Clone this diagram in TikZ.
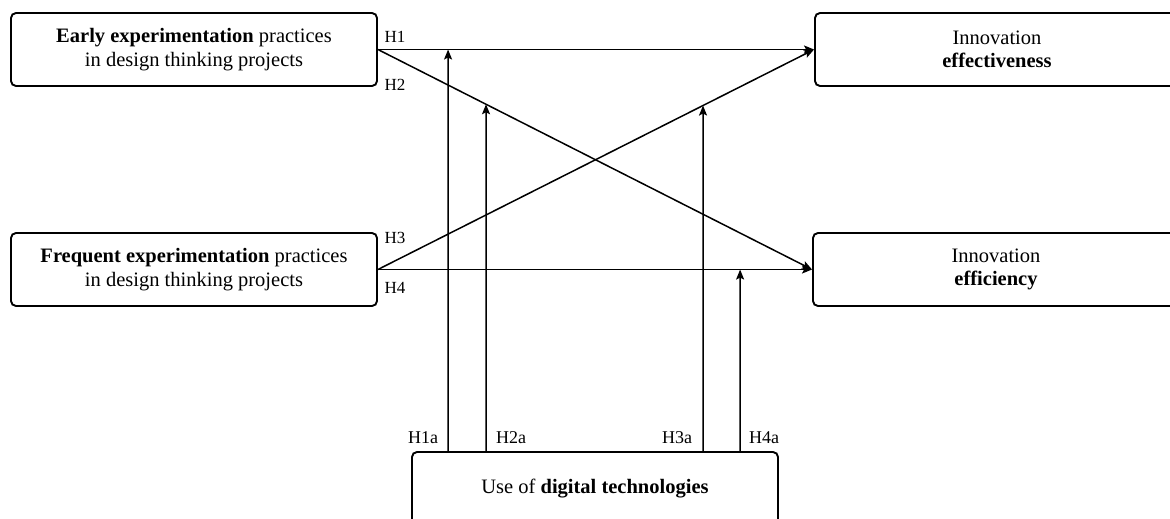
\documentclass[tikz,border=0pt]{standalone}
\usepackage{fontspec}
\setmainfont{Liberation Serif}[BoldFont={Liberation Serif Bold}]
\usetikzlibrary{arrows.meta,calc}
\begin{document}
\begin{tikzpicture}[x=1pt,y=-1pt,
  box/.style={draw, line width=1.9pt, rounded corners=5pt, minimum width=366pt, minimum height=73pt,
    align=center, font=\fontsize{20.5}{23.5}\selectfont, inner sep=0pt},
  conn/.style={line width=1.5pt, -{Stealth[length=10pt,width=8pt,inset=2pt]}},
  hlab/.style={anchor=base, font=\fontsize{17}{20}\selectfont, inner sep=0pt},
  hlaba/.style={anchor=base, font=\fontsize{18}{20}\selectfont, inner sep=0pt}]
\useasboundingbox (0,0) rectangle (1170,519);
\clip (0,0) rectangle (1170,519);
\fill[white] (0,0) rectangle (1170,519);

\node[box] (early) at (194,49.5) {\textbf{Early experimentation} practices\\in design thinking projects};
\node[box] (freq) at (194,269.5) {\textbf{Frequent experimentation} practices\\in design thinking projects};
\node[box, minimum width=364pt] (eff) at (997,49.5) {Innovation\\\textbf{effectiveness}};
\node[box, minimum width=366pt] (effic) at (996,269.5) {Innovation\\\textbf{efficiency}};
\node[box] (dig) at (595,488.5) {Use of \textbf{digital technologies}};

\draw[conn] (early.east) -- (eff.west);
\draw[conn] (early.east) -- (effic.west);
\draw[conn] (freq.east) -- (eff.west);
\draw[conn] (freq.east) -- (effic.west);

\coordinate (b1) at (448,452);
\coordinate (b2) at (486,452);
\coordinate (b3) at (703,452);
\coordinate (b4) at (740,452);
\coordinate (t1) at (448,0);
\coordinate (t2) at (486,0);
\coordinate (t3) at (703,0);
\coordinate (t4) at (740,0);

\draw[conn] (b1) -- (intersection of early.east--eff.west and b1--t1);
\draw[conn] (b2) -- (intersection of early.east--effic.west and b2--t2);
\draw[conn] (b3) -- (intersection of freq.east--eff.west and b3--t3);
\draw[conn] (b4) -- (intersection of freq.east--effic.west and b4--t4);

\node[hlab] (lh1) at (395,43) {H1};
\node[hlab] (lh2) at (395,90) {H2};
\node[hlab] (lh3) at (395,243) {H3};
\node[hlab] (lh4) at (395,293) {H4};
\node[hlaba] (lh1a) at (423,443) {H1a};
\node[hlaba] (lh2a) at (511,443) {H2a};
\node[hlaba] (lh3a) at (677,443) {H3a};
\node[hlaba] (lh4a) at (764,443) {H4a};
\end{tikzpicture}
\end{document}
